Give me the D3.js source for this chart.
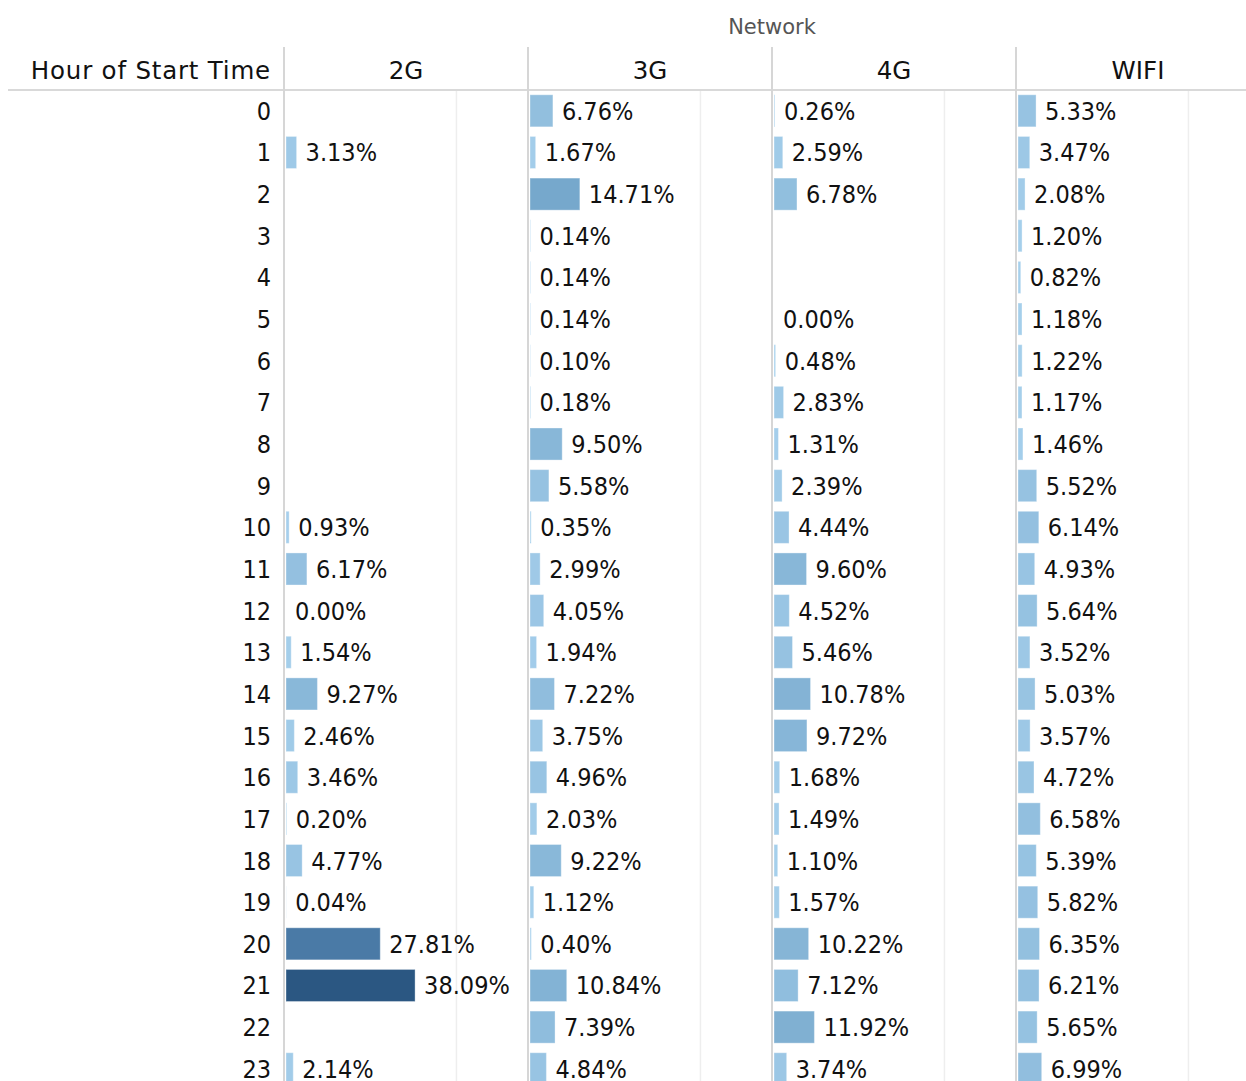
<!DOCTYPE html>
<html>
	<head>
		<title>Hour of Start Time by Network</title>
		<script src="https://d3js.org/d3.v7.min.js"></script>
		<style>
			body { margin: 0; background: #fff; }
		</style>
	</head>
	<body>
		<script>

			// Data - share of sessions per hour, in percent (null = no mark)
			var hours = d3.range(0, 24).map(String);
			var networks = ["2G", "3G", "4G", "WIFI"];

			var values_2g = [null, 3.13, null, null, null, null, null, null, null, null,
				0.93, 6.17, 0.00, 1.54, 9.27, 2.46, 3.46, 0.20, 4.77, 0.04, 27.81, 38.09, null, 2.14];
			var values_3g = [6.76, 1.67, 14.71, 0.14, 0.14, 0.14, 0.10, 0.18, 9.50, 5.58,
				0.35, 2.99, 4.05, 1.94, 7.22, 3.75, 4.96, 2.03, 9.22, 1.12, 0.40, 10.84, 7.39, 4.84];
			var values_4g = [0.26, 2.59, 6.78, null, null, 0.00, 0.48, 2.83, 1.31, 2.39,
				4.44, 9.60, 4.52, 5.46, 10.78, 9.72, 1.68, 1.49, 1.10, 1.57, 10.22, 7.12, 11.92, 3.74];
			var values_wifi = [5.33, 3.47, 2.08, 1.20, 0.82, 1.18, 1.22, 1.17, 1.46, 5.52,
				6.14, 4.93, 5.64, 3.52, 5.03, 3.57, 4.72, 6.58, 5.39, 5.82, 6.35, 6.21, 5.65, 6.99];
			var grid_ticks = [50];

			var series = [values_2g, values_3g, values_4g, values_wifi];

			// layout
			var width = 1246;
			var height = 1081;
			var panel_left = 284;
			var panel_width = 244;
			var header_y = 90;
			var row_step = 41.65;

			var label_font = "'DejaVu Sans Condensed', 'DejaVu Sans', sans-serif";
			var header_font = "'DejaVu Sans', sans-serif";

			var svg = d3.select('body').append('svg')
				.attr('width', width)
				.attr('height', height);

			var y = d3.scaleBand()
				.domain(hours)
				.range([header_y, header_y + row_step * hours.length])
				.paddingInner(0.23)
				.paddingOuter(0.115);

			var x = d3.scaleLinear()
				.domain([0, 72])
				.range([0, panel_width]);

			var all_values = d3.merge(series).filter(function (d) { return d != null; });
			var color = d3.scaleLinear()
				.domain([0, 14.71, 27.81, d3.max(all_values)])
				.range(["#a9d2ee", "#76a8cc", "#4a7aa6", "#2b5782"]);

			// top title
			svg.append('text')
				.attr('x', panel_left + panel_width * 2)
				.attr('y', 34)
				.attr('text-anchor', 'middle')
				.style('font-family', header_font)
				.style('font-size', '21px')
				.style('fill', '#555')
				.text('Network');

			svg.append('text')
				.attr('x', 271)
				.attr('y', 79)
				.attr('text-anchor', 'end')
				.style('font-family', header_font)
				.style('font-size', '24.5px')
				.style('letter-spacing', '0.8px')
				.style('fill', '#111')
				.text('Hour of Start Time');

			// header line
			svg.append('line')
				.attr('x1', 8).attr('x2', width)
				.attr('y1', header_y).attr('y2', header_y)
				.style('stroke', '#d9d9d9')
				.style('stroke-width', 2);

			// row labels
			svg.append('g').selectAll('text')
				.data(hours)
				.enter()
				.append('text')
				.attr('x', 271)
				.attr('y', function (d) { return y(d) + y.bandwidth() / 2; })
				.attr('dy', '0.36em')
				.attr('text-anchor', 'end')
				.style('font-family', label_font)
				.style('font-size', '25px')
				.style('fill', '#111')
				.text(function (d) { return d; });

			// one panel per network
			var panels = svg.selectAll('g.panel')
				.data(networks)
				.enter()
				.append('g')
				.attr('class', 'panel')
				.attr('transform', function (d, i) {
					return 'translate(' + (panel_left + panel_width * i) + ',0)';
				});

			panels.selectAll('line.grid')
				.data(grid_ticks)
				.enter()
				.append('line')
				.attr('class', 'grid')
				.attr('x1', function (d) { return 3 + x(d); })
				.attr('x2', function (d) { return 3 + x(d); })
				.attr('y1', header_y + 1)
				.attr('y2', height)
				.style('stroke', '#eeeeee')
				.style('stroke-width', 1.5);

			panels.append('line')
				.attr('x1', 0).attr('x2', 0)
				.attr('y1', 47).attr('y2', height)
				.style('stroke', '#d6d6d6')
				.style('stroke-width', 2);

			panels.append('text')
				.attr('x', panel_width / 2)
				.attr('y', 79)
				.attr('text-anchor', 'middle')
				.style('font-family', header_font)
				.style('font-size', '24.5px')
				.style('fill', '#111')
				.text(function (d) { return d; });

			panels.each(function (network, i) {
				var rows = series[i].map(function (v, h) {
					return { hour: hours[h], value: v };
				}).filter(function (d) { return d.value != null; });

				var g = d3.select(this);

				g.selectAll('rect')
					.data(rows)
					.enter()
					.append('rect')
					.attr('x', 2)
					.attr('y', function (d) { return y(d.hour); })
					.attr('width', function (d) { return x(d.value); })
					.attr('height', y.bandwidth())
					.style('fill', function (d) { return color(d.value); })
					.style('stroke', 'rgba(255,255,255,0.35)')
					.style('stroke-width', 1);

				g.selectAll('text.value')
					.data(rows)
					.enter()
					.append('text')
					.attr('class', 'value')
					.attr('x', function (d) { return 2 + x(d.value) + 9; })
					.attr('y', function (d) { return y(d.hour) + y.bandwidth() / 2; })
					.attr('dy', '0.36em')
					.style('font-family', label_font)
					.style('font-size', '25px')
					.style('fill', '#111')
					.text(function (d) { return d.value.toFixed(2) + '%'; });
			});

		</script>
	</body>
</html>
